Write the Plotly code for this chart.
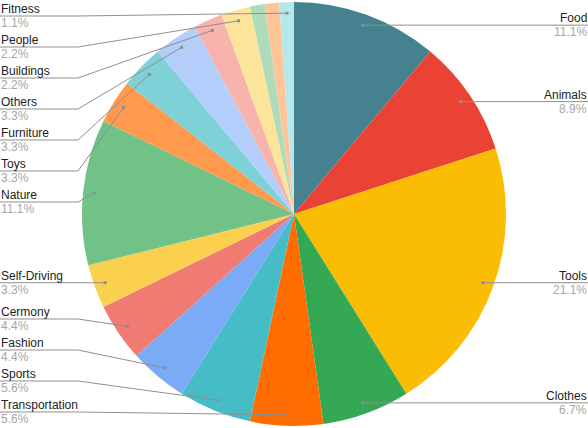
import math
import plotly.graph_objects as go

# ---- data (clockwise from 12 o'clock) ----
categories = ["Food", "Animals", "Tools", "Clothes", "Transportation", "Sports",
              "Fashion", "Cermony", "Self-Driving", "Nature", "Toys", "Furniture",
              "Others", "Buildings", "People", "Unlabeled 1", "Unlabeled 2", "Fitness"]
counts = [10, 8, 19, 6, 5, 5, 4, 4, 3, 10, 3, 3, 3, 2, 2, 1, 1, 1]
show_label = [True] * 15 + [False, False, True]
colors = ["#45818e", "#ea4335", "#fbbc04", "#34a853", "#ff6d01", "#46bdc6",
          "#7baaf7", "#f07b72", "#fcd04f", "#71c287", "#ff994d", "#7ed1d7",
          "#b3cefb", "#f7b4ae", "#fde49b", "#aedcba", "#ffc599", "#b5e8eb"]

W, H = 588, 428
cx, cy, R = W / 2, 214, 212
FONT = "Liberation Sans, Arial, sans-serif"

fig = go.Figure(go.Pie(
    labels=categories, values=counts, sort=False, direction="clockwise",
    rotation=0, textinfo="none", hoverinfo="label+percent",
    marker=dict(colors=colors, line=dict(width=0)),
    domain=dict(x=[0, 1], y=[1 - (cy + R) / H, 1 - (cy - R) / H]),
    showlegend=False,
))

total = sum(counts)
px = lambda x: x / W
py = lambda y: 1 - y / H

# compute dot positions from data
items = []
cum = 0
for name, v, show in zip(categories, counts, show_label):
    th = 2 * math.pi * (cum + v / 2) / total
    cum += v
    if not show:
        continue
    rho = 0.948 * R
    dx, dy = cx + rho * math.sin(th), cy - rho * math.cos(th)
    side = "right" if math.sin(th) > 0 else "left"
    items.append(dict(name=name, pct=f"{100 * v / total:.1f}%", dx=dx, dy=dy, side=side))

gap, ymin, ymax = 31, 16, 412
for side in ("left", "right"):
    grp = sorted([it for it in items if it["side"] == side], key=lambda it: it["dy"])
    prev = None
    for it in grp:
        y = max(it["dy"], ymin)
        if prev is not None:
            y = max(y, prev + gap)
        it["ly"] = y
        prev = y
    nxt = None
    for it in reversed(grp):
        y = min(it["ly"], ymax)
        if nxt is not None:
            y = min(y, nxt - gap)
        it["ly"] = y
        nxt = y

shapes, annotations = [], []
elbow = 78
for it in items:
    ly = it["ly"]
    if it["side"] == "left":
        x0, xe, xt, anchor = 0, elbow, 0, "left"
    else:
        x0, xe, xt, anchor = W, W - elbow, W, "right"
    path = f"M {px(x0)} {py(ly)} L {px(xe)} {py(ly)} L {px(it['dx'])} {py(it['dy'])}"
    shapes.append(dict(type="path", path=path, xref="paper", yref="paper",
                       line=dict(color="#8f8f8f", width=1)))
    shapes.append(dict(type="rect", xref="paper", yref="paper",
                       x0=px(it["dx"] - 1.5), x1=px(it["dx"] + 1.5),
                       y0=py(it["dy"] - 1.5), y1=py(it["dy"] + 1.5),
                       fillcolor="#8f8f8f", line=dict(width=0)))
    annotations.append(dict(x=px(xt), y=py(ly), xref="paper", yref="paper",
                            text=it["name"], showarrow=False, xanchor=anchor,
                            yanchor="bottom", yshift=-1, borderpad=0,
                            font=dict(family=FONT, size=12, color="#222222")))
    annotations.append(dict(x=px(xt), y=py(ly), xref="paper", yref="paper",
                            text=it["pct"], showarrow=False, xanchor=anchor,
                            yanchor="top", yshift=1, borderpad=0,
                            font=dict(family=FONT, size=12, color="#a6a6a6")))

fig.update_layout(
    width=W, height=H, margin=dict(l=0, r=0, t=0, b=0),
    paper_bgcolor="white", plot_bgcolor="white",
    shapes=shapes, annotations=annotations,
)
fig.write_html("out.html", config={"displayModeBar": False},
               post_script="document.body.style.margin='0';")
